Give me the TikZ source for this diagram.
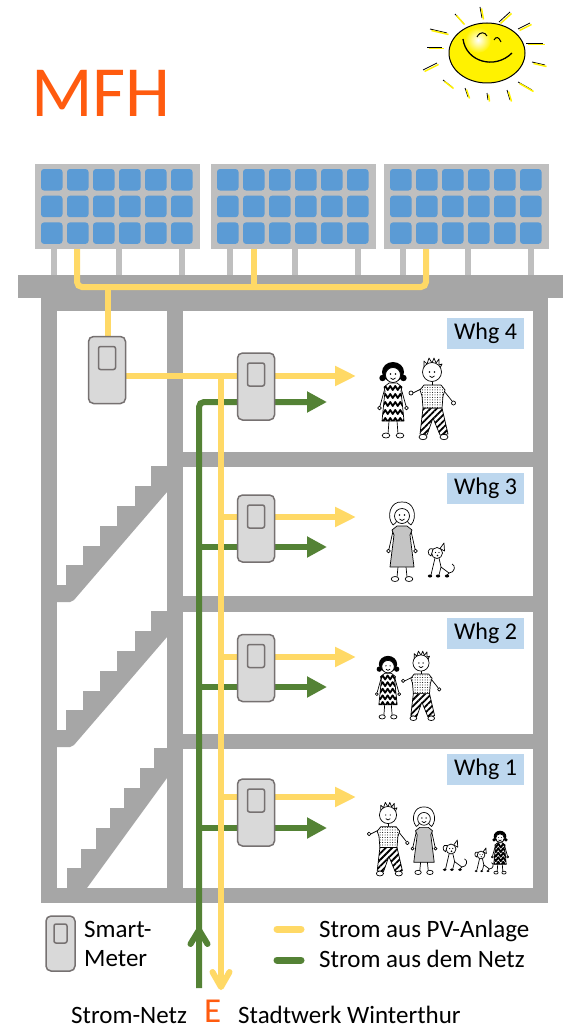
\documentclass[tikz,border=0pt]{standalone}
\usepackage{fontspec}
\setmainfont{Carlito}
\usetikzlibrary{arrows.meta,patterns.meta,decorations.pathmorphing}

\definecolor{wallgray}{HTML}{A6A6A6}
\definecolor{framegray}{HTML}{BFBFBF}
\definecolor{cellblue}{HTML}{5B9BD5}
\definecolor{pvyellow}{HTML}{FFD966}
\definecolor{netzgreen}{HTML}{548235}
\definecolor{meterfill}{HTML}{D9D9D9}
\definecolor{meterline}{HTML}{767171}
\definecolor{whgblue}{HTML}{BDD7EE}
\definecolor{mfhorange}{HTML}{FF5B0F}
\definecolor{sunyellow}{HTML}{FFF200}

\tikzset{
  pvline/.style={pvyellow, line width=6pt, >={Triangle[length=21pt,width=19pt]}},
  netzline/.style={netzgreen, line width=6pt, >={Triangle[length=20pt,width=20pt]}},
  panel/.style={fill=framegray, minimum width=165pt, minimum height=85pt},
  meter/.style={draw=meterline, fill=meterfill, line width=1.5pt, rounded corners=5pt,
    minimum width=37pt, minimum height=67pt,
    path picture={\draw[meterline, line width=1.5pt, rounded corners=2pt]
      ([xshift=-8.5pt,yshift=-10pt]path picture bounding box.north) rectangle
      ([xshift=8.5pt,yshift=-33pt]path picture bounding box.north);}},
  smallmeter/.style={meter, minimum width=29pt, minimum height=55pt,
    path picture={\draw[meterline, line width=1.5pt, rounded corners=2pt]
      ([xshift=-6.5pt,yshift=-8pt]path picture bounding box.north) rectangle
      ([xshift=6.5pt,yshift=-27pt]path picture bounding box.north);}},
  whgbox/.style={fill=whgblue, minimum width=77pt, minimum height=31pt},
  figure/.style={line width=0.7pt, line join=round},
  % residents, head centre at (0,0)
  pics/girl/.style={code={
    \fill (0,-1) ellipse [x radius=11, y radius=10];
    \fill (-10.5,5) circle [radius=3.2] (10.5,5) circle [radius=3.2];
    \draw[fill=white] (0,2) circle [radius=7.5];
    \fill (-2.5,1) circle [radius=0.8] (2.5,1) circle [radius=0.8];
    \draw (-2.5,5) .. controls (-1,7) and (1,7) .. (2.5,5);
    \draw (-8,15) -- (-13,33) (8,15) -- (13,33);
    \draw[fill=white] (-13.5,35) circle [radius=1.8] (13.5,35) circle [radius=1.8];
    \draw (-4,48) -- (-5,61) (4,48) -- (5,61);
    \draw[fill=white] (-7,62.5) ellipse [x radius=3.8, y radius=2.5]
      (7,62.5) ellipse [x radius=3.8, y radius=2.5];
    \begin{scope}
      \clip (-4,10) -- (4,10) -- (9,14) -- (8,18) -- (11,48) -- (-11,48) -- (-8,18) -- (-9,14) -- cycle;
      \fill[white] (-12,9) rectangle (12,49);
      \foreach \zz in {15,23,31,39,47}
        \draw[line width=1.8pt, decorate, decoration={zigzag, segment length=5pt, amplitude=2pt}] (-14,\zz) -- (14,\zz);
    \end{scope}
    \draw (-4,10) -- (4,10) -- (9,14) -- (8,18) -- (11,48) -- (-11,48) -- (-8,18) -- (-9,14) -- cycle;
  }},
  pics/boy/.style={code={
    \draw (-8,-5) -- (-8,-11) -- (-5,-8) -- (-3,-14) -- (0,-9) -- (2,-14) -- (4,-9) -- (7,-13) -- (7,-7) -- (10,-8) -- (8,-4);
    \draw[fill=white] (0,0) circle [radius=9.5];
    \fill (-2.5,0) circle [radius=0.8] (2.5,0) circle [radius=0.8];
    \draw (-2.5,4) .. controls (-1,6) and (1,6) .. (2.5,4);
    \draw (0,9.5) -- (0,13);
    \draw (-11,17) -- (-19,21) (12,19) -- (20,29);
    \draw[fill=white] (-21,21) circle [radius=2] (21.5,31) circle [radius=2];
    \draw[preaction={fill=white}, preaction={pattern={Lines[angle=45,distance=4.5pt,line width=1.8pt]}}]
      (-9,36) -- (10,36) -- (16,62) -- (8,63) -- (1,46) -- (-5,63) -- (-12,62) -- cycle;
    \draw[preaction={fill=white}, preaction={pattern={Dots[distance=2.5pt,radius=0.5pt]}}]
      (-8,13) -- (9,13) -- (13,18) -- (11,24) -- (10,36) -- (-9,36) -- (-10,24) -- (-12,18) -- cycle;
    \draw[fill=white] (-9,65) ellipse [x radius=4, y radius=2.7] (12,65) ellipse [x radius=4, y radius=2.7];
  }},
  pics/woman/.style={code={
    \draw[fill=white] (-9,10) .. controls (-16,2) and (-12,-14) .. (0,-13)
      .. controls (12,-14) and (16,2) .. (9,10) .. controls (6,8) .. (5,4) -- (-5,4) .. controls (-6,8) .. (-9,10);
    \draw[fill=white] (0,1) circle [radius=7.5];
    \fill (-2.5,0) circle [radius=0.8] (2.5,0) circle [radius=0.8];
    \draw (-2.5,4) .. controls (-1,6) and (1,6) .. (2.5,4);
    \draw (-9,16) -- (-13,34) (9,16) -- (13,34);
    \draw[fill=white] (-13.5,36) circle [radius=1.8] (13.5,36) circle [radius=1.8];
    \draw (-4,52) -- (-5,62) (4,52) -- (5,62);
    \draw[fill=white] (-7,64) ellipse [x radius=3.8, y radius=2.5] (7,64) ellipse [x radius=3.8, y radius=2.5];
    \draw[preaction={fill=white}, preaction={pattern={Dots[distance=2pt,radius=0.55pt]}}]
      (-5,11) -- (5,11) -- (10,15) -- (8,20) -- (12,52) -- (-12,52) -- (-8,20) -- (-10,15) -- cycle;
  }},
  pics/dog/.style={code={
    \draw (-2,5) -- (-6,22) (2,5) -- (4,14) -- (12,20) (4,14) -- (2,22) (12,20) -- (10,22);
    \draw (12,20) .. controls (18,20) and (19,12) .. (15,11);
    \draw[fill=white] (0,0) circle [radius=5.5];
    \draw[fill=white] (-4,-4) .. controls (-10,-6) and (-10,2) .. (-6,3) -- cycle;
    \draw[fill=white] (3,-4.5) -- (7,-10) -- (7.5,-2) -- cycle;
    \fill (-1.5,-0.5) circle [radius=0.7] (2,-0.5) circle [radius=0.7] (0.5,2.5) circle [radius=0.9];
    \fill (-7,23) ellipse [x radius=2.2, y radius=1.5] (1,23) ellipse [x radius=2.2, y radius=1.5]
      (10,23) ellipse [x radius=2.2, y radius=1.5];
  }},
}

\begin{document}
\begin{tikzpicture}[x=1pt, y=-1pt, every node/.style={inner sep=0pt, font=\fontsize{25}{30}\selectfont}]
  \useasboundingbox[fill=white] (0,0) rectangle (564,1030);

  \node[anchor=base west, text=mfhorange, font=\fontsize{72}{80}\selectfont] (title) at (31,117) {MFH};

  % sun
  \foreach \ax/\ay/\bx/\by in {480/7/482/18, 455/14/463/23, 499/22/510/12, 518/29/530/23,
      526/43/543/43, 532/62/545/65, 518/82/532/90, 507/90/510/100, 487/93/488/100,
      465/88/468/97, 443/80/452/87, 423/70/437/63, 427/47/442/47, 430/29/447/33} {
    \draw[line width=0.8pt] (\ax,\ay) -- (\bx,\by);
    \draw[sunyellow, line width=1.5pt] (\ax+1.5,\ay+1.5) -- (\bx+1.5,\by+1.5);
  }
  \fill[sunyellow, draw=black, line width=1pt] (487,53) ellipse [x radius=38, y radius=30];
  \shade[inner color=white, outer color=sunyellow] (478,40) circle [radius=13];
  \draw[line width=1.3pt] (463,39) .. controls (466,62) and (495,70) .. (512,53);
  \draw[line width=1pt] (477,37) .. controls (480,31) and (485,32) .. (487,36);
  \draw[line width=1pt] (494,40) .. controls (496,36) and (499,37) .. (501,42);

  % building
  \fill[wallgray] (18,275) rectangle (563,298);
  \fill[wallgray] (41,298) rectangle (548,903);
  \fill[white] (57,311) rectangle (167,888);
  \foreach \top/\bot in {311/452, 467/596, 612/734, 749/888}
    \fill[white] (183,\top) rectangle (533,\bot);

  % staircase
  \foreach \dy in {0,145}
    \fill[wallgray, shift={(0,\dy)}] (57,585) -- (66,585) -- (66,565) -- (83,565) -- (83,546)
      -- (100,546) -- (100,526) -- (117,526) -- (117,506) -- (135,506) -- (135,486)
      -- (151,486) -- (151,466) -- (167,466) -- (167,492) -- (74,600) -- (70,602) -- (57,602) -- cycle;
  \fill[wallgray] (67,888) -- (67,868) -- (81,868) -- (81,849) -- (96,849) -- (96,828)
    -- (110,828) -- (110,808) -- (124,808) -- (124,788) -- (140,788) -- (140,768)
    -- (154,768) -- (154,748) -- (167,748) -- (167,778) -- (87,888) -- cycle;

  % PV modules
  \foreach \px [count=\i] in {35,211,384} {
    \foreach \lx in {19,84,147}
      \fill[framegray] (\px+\lx-3,249) rectangle (\px+\lx+3,275);
    \node[panel, anchor=north west] (panel\i) at (\px,164) {};
    \foreach \cx in {0,...,5}
      \foreach \cy in {0,1,2}
        \fill[cellblue, rounded corners=3pt] (\px+6+26*\cx,169+26.7*\cy) rectangle ++(21.5,21.5);
  }

  \coordinate (drop1) at (77,249);
  \coordinate (drop2) at (254,249);
  \coordinate (drop3) at (426,249);
  \coordinate (bus) at (108,287);
  \draw[pvline, rounded corners=5pt] (drop1) |- (drop3 |- bus) -- (drop3);
  \draw[pvline] (drop2) -- (drop2 |- bus);

  % cables per flat
  \foreach \n/\yy/\gy in {4/376/402, 3/517/547, 2/657/687, 1/797/828} {
    \coordinate (yt\n) at (221,\yy);
    \coordinate (ya\n) at (356,\yy);
    \coordinate (gt\n) at (199,\gy);
    \coordinate (ga\n) at (327,\gy);
  }
  \coordinate (gbot) at (199,988);
  \coordinate (gup) at (199,927);
  \coordinate (ybot) at (221,990);

  \draw[netzline, rounded corners=5pt, ->] (gbot) |- (ga4);
  \draw[netzline, -{Straight Barb[length=14pt,width=17pt,round]}] (gbot) -- (gup);
  \foreach \n in {1,2,3}
    \draw[netzline, ->] (gt\n) -- (ga\n);

  \draw[pvline, ->] (bus) |- (ya4);
  \draw[pvline, -{Straight Barb[length=15pt,width=17pt,round]}] (yt4) -- (ybot);
  \foreach \n in {1,2,3}
    \draw[pvline, ->] (yt\n) -- (ya\n);

  % smart meters
  \node[meter] (m0) at (107,370) {};
  \foreach \n/\my in {4/386.5, 3/528.5, 2/668, 1/812.5}
    \node[meter] (m\n) at (256,\my) {};

  \foreach \n/\wy in {4/333.5, 3/488.5, 2/633.5, 1/769.5}
    \node[whgbox, font=\fontsize{24}{28}\selectfont] (whg\n) at (485.5,\wy) {Whg \n};

  % residents
  \pic[figure] (girl4) at (393,373) {girl};
  \pic[figure] (boy4) at (432,372) {boy};
  \pic[figure] (woman3) at (402,515) {woman};
  \pic[figure] (dog3) at (437,553) {dog};
  \pic[figure, scale=0.83] (girl2) at (388,665) {girl};
  \pic[figure, scale=0.85] (boy2) at (421,663) {boy};
  \pic[figure, scale=0.9] (boy1) at (388,815) {boy};
  \pic[figure, scale=0.85] (woman1) at (424,818) {woman};
  \pic[figure, scale=0.9] (dog1) at (451,849) {dog};
  \pic[figure, scale=0.7] (pup1) at (481,855) {dog};
  \pic[figure, scale=0.57] (girl1) at (500,837) {girl};

  % legend
  \node[smallmeter] (legmeter) at (60.5,943.5) {};
  \node[anchor=base west] (smart) at (84,937) {Smart-};
  \node[anchor=base west] (meterlbl) at (84,966) {Meter};
  \coordinate (lpv1) at (277,929);
  \coordinate (lpv2) at (301,929);
  \coordinate (lnetz1) at (277,960);
  \coordinate (lnetz2) at (301,960);
  \draw[pvline, line width=7pt, line cap=round] (lpv1) -- (lpv2);
  \draw[netzline, line width=7pt, line cap=round] (lnetz1) -- (lnetz2);
  \node[anchor=base west] (legpv) at (319,937) {Strom aus PV-Anlage};
  \node[anchor=base west] (legnetz) at (319,967) {Strom aus dem Netz};

  \node[anchor=base west] (netz) at (71,1023) {Strom-Netz};
  \node[anchor=base west, text=mfhorange, font=\fontsize{35}{38}\selectfont] (ewerk) at (204,1022) {E};
  \node[anchor=base west] (stadtwerk) at (238,1023) {Stadtwerk Winterthur};
\end{tikzpicture}
\end{document}
